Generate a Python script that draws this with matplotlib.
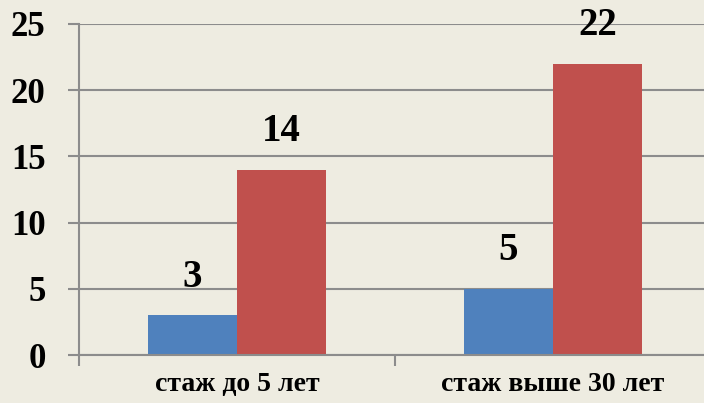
import matplotlib.pyplot as plt
import numpy as np

categories = ["стаж до 5 лет", "стаж выше 30 лет"]
series_blue = [3, 5]
series_red = [14, 22]
y_ticks = [0, 5, 10, 15, 20, 25]

bg = "#EEECE1"
grid_col = "#8C8C8C"
font = "Liberation Serif"

fig = plt.figure(figsize=(7.04, 4.03), dpi=100, facecolor=bg)
ax = fig.add_axes([79 / 704, 48 / 403, 632 / 704, 331 / 403])
ax.set_facecolor("none")

x = np.arange(len(categories))
w = 0.283
b1 = ax.bar(x - w / 2, series_blue, w, color="#4F81BD", zorder=3)
b2 = ax.bar(x + w / 2, series_red, w, color="#C0504D", zorder=3)

for bars, vals in ((b1, series_blue), (b2, series_red)):
    for r, v in zip(bars, vals):
        ax.annotate(str(v), (r.get_x() + r.get_width() / 2, v),
                    xytext=(0, 14), textcoords="offset points",
                    ha="center", va="bottom", fontsize=28,
                    fontweight="bold", family=font)

ax.set_xlim(-0.5, 1.5)
ax.set_ylim(0, 25)
ax.set_yticks(y_ticks)
ax.set_yticklabels([str(t) for t in y_ticks], fontsize=25,
                   fontweight="bold", family=font)
ax.grid(axis="y", color=grid_col, lw=1.5, zorder=1)

# category dividers as major ticks, labels on minor ticks
ax.set_xticks([-0.5, 0.5, 1.5])
ax.set_xticklabels([])
ax.set_xticks(x, minor=True)
ax.set_xticklabels(categories, minor=True, fontsize=20,
                   fontweight="bold", family=font)
ax.tick_params(axis="x", which="major", length=8, width=1.5,
               color=grid_col, direction="out")
ax.tick_params(axis="x", which="minor", length=0, pad=12)
ax.tick_params(axis="y", length=8, width=1.5, color=grid_col, pad=16)

for s in ("top", "right"):
    ax.spines[s].set_visible(False)
for s in ("left", "bottom"):
    ax.spines[s].set_color(grid_col)
    ax.spines[s].set_linewidth(1.5)
ax.spines["bottom"].set_zorder(4)

fig.savefig("out.png", dpi=100, facecolor=bg)
